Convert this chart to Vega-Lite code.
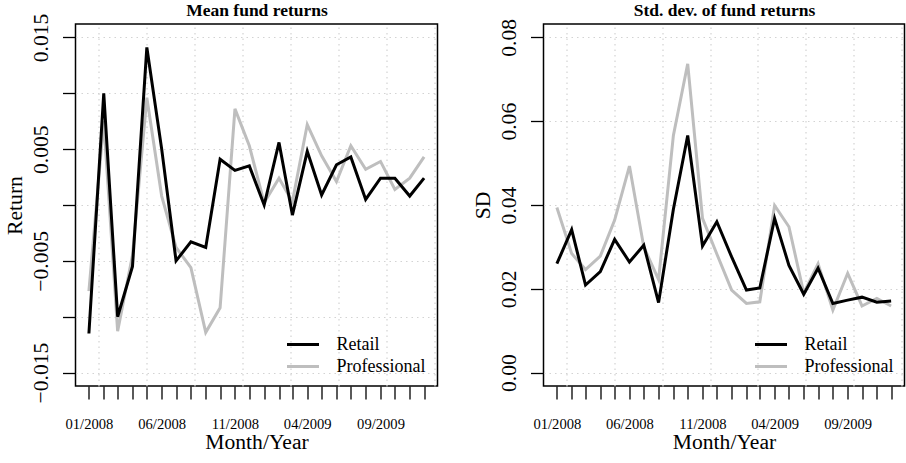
{
  "$schema": "https://vega.github.io/schema/vega-lite/v6.json",
  "padding": {"left": 3.5, "top": 0, "right": 0, "bottom": 0},
  "background": "white",
  "datasets": {
    "mean": [
      {"month": "2008-01-01", "group": "Professional", "value": -0.0077},
      {"month": "2008-02-01", "group": "Professional", "value": 0.0075},
      {"month": "2008-03-01", "group": "Professional", "value": -0.0113},
      {"month": "2008-04-01", "group": "Professional", "value": -0.0045},
      {"month": "2008-05-01", "group": "Professional", "value": 0.0096},
      {"month": "2008-06-01", "group": "Professional", "value": 0.0008},
      {"month": "2008-07-01", "group": "Professional", "value": -0.0038},
      {"month": "2008-08-01", "group": "Professional", "value": -0.0056},
      {"month": "2008-09-01", "group": "Professional", "value": -0.0114},
      {"month": "2008-10-01", "group": "Professional", "value": -0.0092},
      {"month": "2008-11-01", "group": "Professional", "value": 0.0086},
      {"month": "2008-12-01", "group": "Professional", "value": 0.0053},
      {"month": "2009-01-01", "group": "Professional", "value": 0.0002},
      {"month": "2009-02-01", "group": "Professional", "value": 0.0024},
      {"month": "2009-03-01", "group": "Professional", "value": 0.0003},
      {"month": "2009-04-01", "group": "Professional", "value": 0.0072},
      {"month": "2009-05-01", "group": "Professional", "value": 0.0044},
      {"month": "2009-06-01", "group": "Professional", "value": 0.0021},
      {"month": "2009-07-01", "group": "Professional", "value": 0.0053},
      {"month": "2009-08-01", "group": "Professional", "value": 0.0032},
      {"month": "2009-09-01", "group": "Professional", "value": 0.0039},
      {"month": "2009-10-01", "group": "Professional", "value": 0.0014},
      {"month": "2009-11-01", "group": "Professional", "value": 0.0024},
      {"month": "2009-12-01", "group": "Professional", "value": 0.0043},
      {"month": "2008-01-01", "group": "Retail", "value": -0.0115},
      {"month": "2008-02-01", "group": "Retail", "value": 0.0100},
      {"month": "2008-03-01", "group": "Retail", "value": -0.0100},
      {"month": "2008-04-01", "group": "Retail", "value": -0.0055},
      {"month": "2008-05-01", "group": "Retail", "value": 0.0141},
      {"month": "2008-06-01", "group": "Retail", "value": 0.0050},
      {"month": "2008-07-01", "group": "Retail", "value": -0.0050},
      {"month": "2008-08-01", "group": "Retail", "value": -0.0033},
      {"month": "2008-09-01", "group": "Retail", "value": -0.0038},
      {"month": "2008-10-01", "group": "Retail", "value": 0.0041},
      {"month": "2008-11-01", "group": "Retail", "value": 0.0031},
      {"month": "2008-12-01", "group": "Retail", "value": 0.0035},
      {"month": "2009-01-01", "group": "Retail", "value": 0.0000},
      {"month": "2009-02-01", "group": "Retail", "value": 0.0056},
      {"month": "2009-03-01", "group": "Retail", "value": -0.0009},
      {"month": "2009-04-01", "group": "Retail", "value": 0.0048},
      {"month": "2009-05-01", "group": "Retail", "value": 0.0009},
      {"month": "2009-06-01", "group": "Retail", "value": 0.0036},
      {"month": "2009-07-01", "group": "Retail", "value": 0.0043},
      {"month": "2009-08-01", "group": "Retail", "value": 0.0005},
      {"month": "2009-09-01", "group": "Retail", "value": 0.0024},
      {"month": "2009-10-01", "group": "Retail", "value": 0.0024},
      {"month": "2009-11-01", "group": "Retail", "value": 0.0008},
      {"month": "2009-12-01", "group": "Retail", "value": 0.0024}
    ],
    "sd": [
      {"month": "2008-01-01", "group": "Professional", "value": 0.0394},
      {"month": "2008-02-01", "group": "Professional", "value": 0.0284},
      {"month": "2008-03-01", "group": "Professional", "value": 0.0246},
      {"month": "2008-04-01", "group": "Professional", "value": 0.0278},
      {"month": "2008-05-01", "group": "Professional", "value": 0.0364},
      {"month": "2008-06-01", "group": "Professional", "value": 0.0493},
      {"month": "2008-07-01", "group": "Professional", "value": 0.0300},
      {"month": "2008-08-01", "group": "Professional", "value": 0.0222},
      {"month": "2008-09-01", "group": "Professional", "value": 0.0566},
      {"month": "2008-10-01", "group": "Professional", "value": 0.0737},
      {"month": "2008-11-01", "group": "Professional", "value": 0.0368},
      {"month": "2008-12-01", "group": "Professional", "value": 0.0283},
      {"month": "2009-01-01", "group": "Professional", "value": 0.0197},
      {"month": "2009-02-01", "group": "Professional", "value": 0.0165},
      {"month": "2009-03-01", "group": "Professional", "value": 0.0169},
      {"month": "2009-04-01", "group": "Professional", "value": 0.0399},
      {"month": "2009-05-01", "group": "Professional", "value": 0.0348},
      {"month": "2009-06-01", "group": "Professional", "value": 0.0190},
      {"month": "2009-07-01", "group": "Professional", "value": 0.0260},
      {"month": "2009-08-01", "group": "Professional", "value": 0.0149},
      {"month": "2009-09-01", "group": "Professional", "value": 0.0237},
      {"month": "2009-10-01", "group": "Professional", "value": 0.0159},
      {"month": "2009-11-01", "group": "Professional", "value": 0.0177},
      {"month": "2009-12-01", "group": "Professional", "value": 0.0159},
      {"month": "2008-01-01", "group": "Retail", "value": 0.0260},
      {"month": "2008-02-01", "group": "Retail", "value": 0.0341},
      {"month": "2008-03-01", "group": "Retail", "value": 0.0209},
      {"month": "2008-04-01", "group": "Retail", "value": 0.0241},
      {"month": "2008-05-01", "group": "Retail", "value": 0.0318},
      {"month": "2008-06-01", "group": "Retail", "value": 0.0264},
      {"month": "2008-07-01", "group": "Retail", "value": 0.0304},
      {"month": "2008-08-01", "group": "Retail", "value": 0.0167},
      {"month": "2008-09-01", "group": "Retail", "value": 0.0390},
      {"month": "2008-10-01", "group": "Retail", "value": 0.0566},
      {"month": "2008-11-01", "group": "Retail", "value": 0.0302},
      {"month": "2008-12-01", "group": "Retail", "value": 0.0360},
      {"month": "2009-01-01", "group": "Retail", "value": 0.0276},
      {"month": "2009-02-01", "group": "Retail", "value": 0.0197},
      {"month": "2009-03-01", "group": "Retail", "value": 0.0202},
      {"month": "2009-04-01", "group": "Retail", "value": 0.0368},
      {"month": "2009-05-01", "group": "Retail", "value": 0.0256},
      {"month": "2009-06-01", "group": "Retail", "value": 0.0187},
      {"month": "2009-07-01", "group": "Retail", "value": 0.0249},
      {"month": "2009-08-01", "group": "Retail", "value": 0.0165},
      {"month": "2009-09-01", "group": "Retail", "value": 0.0173},
      {"month": "2009-10-01", "group": "Retail", "value": 0.0180},
      {"month": "2009-11-01", "group": "Retail", "value": 0.0168},
      {"month": "2009-12-01", "group": "Retail", "value": 0.0171}
    ]
  },
  "hconcat": [
    {
      "width": 362,
      "height": 362,
      "data": {"name": "mean"},
      "layer": [
        {
          "mark": {"type": "line", "opacity": 0},
          "encoding": {
            "x": {"field": "month", "type": "temporal",
              "scale": {"type": "utc", "domain": [{"year": 2007, "month": 12, "date": 4, "utc": true}, {"year": 2009, "month": 12, "date": 29, "utc": true}]},
              "axis": {"orient": "top", "title": "Mean fund returns", "titleFontWeight": "bold", "titleFontSize": 17.5, "titleBaseline": "alphabetic", "titlePadding": 8.5,
                "labels": false, "ticks": false, "domain": false, "grid": true, "gridColor": "#d3d3d3", "gridDash": [1.5, 4], "gridWidth": 1.2,
                "values": [{"year": 2008, "month": 1, "date": 22, "utc": true}, {"year": 2008, "month": 5, "date": 1, "utc": true}, {"year": 2008, "month": 8, "date": 9, "utc": true}, {"year": 2008, "month": 11, "date": 17, "utc": true}, {"year": 2009, "month": 2, "date": 25, "utc": true}, {"year": 2009, "month": 6, "date": 5, "utc": true}, {"year": 2009, "month": 9, "date": 13, "utc": true}, {"year": 2009, "month": 12, "date": 22, "utc": true}]}},
            "y": {"field": "value", "type": "quantitative",
              "scale": {"domain": [-0.0162, 0.0162], "nice": false, "zero": false},
              "axis": {"title": "Return", "values": [-0.015, -0.01, -0.005, 0, 0.005, 0.01, 0.015],
                "labelExpr": "(abs(abs(datum.value) - 0.01) < 1e-9 || abs(datum.value) < 1e-9) ? '' : format(datum.value, '.3f')",
                "labelAngle": -90, "labelAlign": "center", "labelBaseline": "alphabetic", "labelPadding": 15, "labelOverlap": false,
                "grid": true, "gridColor": "#d3d3d3", "gridDash": [1.5, 4], "gridWidth": 1.2,
                "titleBaseline": "alphabetic", "titlePadding": 9}}
          }
        },
        {
          "mark": {"type": "line", "strokeWidth": 3},
          "encoding": {
            "x": {"field": "month", "type": "temporal",
              "axis": {"orient": "bottom", "title": "Month/Year", "grid": false, "labelFontSize": 14.6, "labelBaseline": "top", "labelPadding": 17.5, "labelAngle": 0, "labelOverlap": false, "labelBound": false, "labelFlush": false,
                "titleBaseline": "alphabetic", "titlePadding": 17.5,
                "labelExpr": "indexof(['01/2008','06/2008','11/2008','04/2009','09/2009'], utcFormat(datum.value, '%m/%Y')) >= 0 ? utcFormat(datum.value, '%m/%Y') : ''",
                "values": [{"year": 2008, "month": 1, "date": 1, "utc": true}, {"year": 2008, "month": 2, "date": 1, "utc": true}, {"year": 2008, "month": 3, "date": 1, "utc": true}, {"year": 2008, "month": 4, "date": 1, "utc": true}, {"year": 2008, "month": 5, "date": 1, "utc": true}, {"year": 2008, "month": 6, "date": 1, "utc": true}, {"year": 2008, "month": 7, "date": 1, "utc": true}, {"year": 2008, "month": 8, "date": 1, "utc": true}, {"year": 2008, "month": 9, "date": 1, "utc": true}, {"year": 2008, "month": 10, "date": 1, "utc": true}, {"year": 2008, "month": 11, "date": 1, "utc": true}, {"year": 2008, "month": 12, "date": 1, "utc": true}, {"year": 2009, "month": 1, "date": 1, "utc": true}, {"year": 2009, "month": 2, "date": 1, "utc": true}, {"year": 2009, "month": 3, "date": 1, "utc": true}, {"year": 2009, "month": 4, "date": 1, "utc": true}, {"year": 2009, "month": 5, "date": 1, "utc": true}, {"year": 2009, "month": 6, "date": 1, "utc": true}, {"year": 2009, "month": 7, "date": 1, "utc": true}, {"year": 2009, "month": 8, "date": 1, "utc": true}, {"year": 2009, "month": 9, "date": 1, "utc": true}, {"year": 2009, "month": 10, "date": 1, "utc": true}, {"year": 2009, "month": 11, "date": 1, "utc": true}, {"year": 2009, "month": 12, "date": 1, "utc": true}]}},
            "y": {"field": "value", "type": "quantitative"},
            "color": {"field": "group", "type": "nominal",
              "scale": {"domain": ["Retail", "Professional"], "range": ["#000000", "#bebebe"]},
              "legend": {"orient": "none", "legendX": 218, "legendY": 311, "title": null, "symbolType": "M-2,0H2", "symbolSize": 256, "symbolStrokeWidth": 3, "labelFont": "Liberation Serif", "labelFontSize": 18, "labelOffset": 24, "labelColor": "black", "rowPadding": 3}}
          }
        }
      ],
      "resolve": {"axis": {"x": "independent"}}
    },
    {
      "width": 361,
      "height": 362,
      "data": {"name": "sd"},
      "layer": [
        {
          "mark": {"type": "line", "opacity": 0},
          "encoding": {
            "x": {"field": "month", "type": "temporal",
              "scale": {"type": "utc", "domain": [{"year": 2007, "month": 12, "date": 4, "utc": true}, {"year": 2009, "month": 12, "date": 29, "utc": true}]},
              "axis": {"orient": "top", "title": "Std. dev. of fund returns", "titleFontWeight": "bold", "titleFontSize": 17.5, "titleBaseline": "alphabetic", "titlePadding": 8.5,
                "labels": false, "ticks": false, "domain": false, "grid": true, "gridColor": "#d3d3d3", "gridDash": [1.5, 4], "gridWidth": 1.2,
                "values": [{"year": 2008, "month": 1, "date": 22, "utc": true}, {"year": 2008, "month": 5, "date": 1, "utc": true}, {"year": 2008, "month": 8, "date": 9, "utc": true}, {"year": 2008, "month": 11, "date": 17, "utc": true}, {"year": 2009, "month": 2, "date": 25, "utc": true}, {"year": 2009, "month": 6, "date": 5, "utc": true}, {"year": 2009, "month": 9, "date": 13, "utc": true}, {"year": 2009, "month": 12, "date": 22, "utc": true}]}},
            "y": {"field": "value", "type": "quantitative",
              "scale": {"domain": [-0.0032, 0.0832], "nice": false, "zero": false},
              "axis": {"title": "SD", "values": [0, 0.02, 0.04, 0.06, 0.08], "format": ".2f",
                "labelAngle": -90, "labelAlign": "center", "labelBaseline": "alphabetic", "labelPadding": 15, "labelOverlap": false,
                "grid": true, "gridColor": "#d3d3d3", "gridDash": [1.5, 4], "gridWidth": 1.2,
                "titleBaseline": "alphabetic", "titlePadding": 9}}
          }
        },
        {
          "mark": {"type": "line", "strokeWidth": 3},
          "encoding": {
            "x": {"field": "month", "type": "temporal",
              "axis": {"orient": "bottom", "title": "Month/Year", "grid": false, "labelFontSize": 14.6, "labelBaseline": "top", "labelPadding": 17.5, "labelAngle": 0, "labelOverlap": false, "labelBound": false, "labelFlush": false,
                "titleBaseline": "alphabetic", "titlePadding": 17.5,
                "labelExpr": "indexof(['01/2008','06/2008','11/2008','04/2009','09/2009'], utcFormat(datum.value, '%m/%Y')) >= 0 ? utcFormat(datum.value, '%m/%Y') : ''",
                "values": [{"year": 2008, "month": 1, "date": 1, "utc": true}, {"year": 2008, "month": 2, "date": 1, "utc": true}, {"year": 2008, "month": 3, "date": 1, "utc": true}, {"year": 2008, "month": 4, "date": 1, "utc": true}, {"year": 2008, "month": 5, "date": 1, "utc": true}, {"year": 2008, "month": 6, "date": 1, "utc": true}, {"year": 2008, "month": 7, "date": 1, "utc": true}, {"year": 2008, "month": 8, "date": 1, "utc": true}, {"year": 2008, "month": 9, "date": 1, "utc": true}, {"year": 2008, "month": 10, "date": 1, "utc": true}, {"year": 2008, "month": 11, "date": 1, "utc": true}, {"year": 2008, "month": 12, "date": 1, "utc": true}, {"year": 2009, "month": 1, "date": 1, "utc": true}, {"year": 2009, "month": 2, "date": 1, "utc": true}, {"year": 2009, "month": 3, "date": 1, "utc": true}, {"year": 2009, "month": 4, "date": 1, "utc": true}, {"year": 2009, "month": 5, "date": 1, "utc": true}, {"year": 2009, "month": 6, "date": 1, "utc": true}, {"year": 2009, "month": 7, "date": 1, "utc": true}, {"year": 2009, "month": 8, "date": 1, "utc": true}, {"year": 2009, "month": 9, "date": 1, "utc": true}, {"year": 2009, "month": 10, "date": 1, "utc": true}, {"year": 2009, "month": 11, "date": 1, "utc": true}, {"year": 2009, "month": 12, "date": 1, "utc": true}]}},
            "y": {"field": "value", "type": "quantitative"},
            "color": {"field": "group", "type": "nominal",
              "scale": {"domain": ["Retail", "Professional"], "range": ["#000000", "#bebebe"]},
              "legend": {"orient": "none", "legendX": 218, "legendY": 311, "title": null, "symbolType": "M-2,0H2", "symbolSize": 256, "symbolStrokeWidth": 3, "labelFont": "Liberation Serif", "labelFontSize": 18, "labelOffset": 24, "labelColor": "black", "rowPadding": 3}}
          }
        }
      ],
      "resolve": {"axis": {"x": "independent"}}
    }
  ],
  "spacing": 33,
  "resolve": {"scale": {"color": "independent"}, "legend": {"color": "independent"}},
  "config": {
    "font": "Liberation Serif",
    "view": {"stroke": "black", "strokeWidth": 1.5},
    "axis": {"tickColor": "black", "tickWidth": 1.3, "tickSize": 13, "domain": false, "labelColor": "black", "titleColor": "black",
      "labelFont": "Liberation Serif", "titleFont": "Liberation Serif", "titleFontWeight": "normal", "titleFontSize": 21.6, "labelFontSize": 21.6}
  }
}
